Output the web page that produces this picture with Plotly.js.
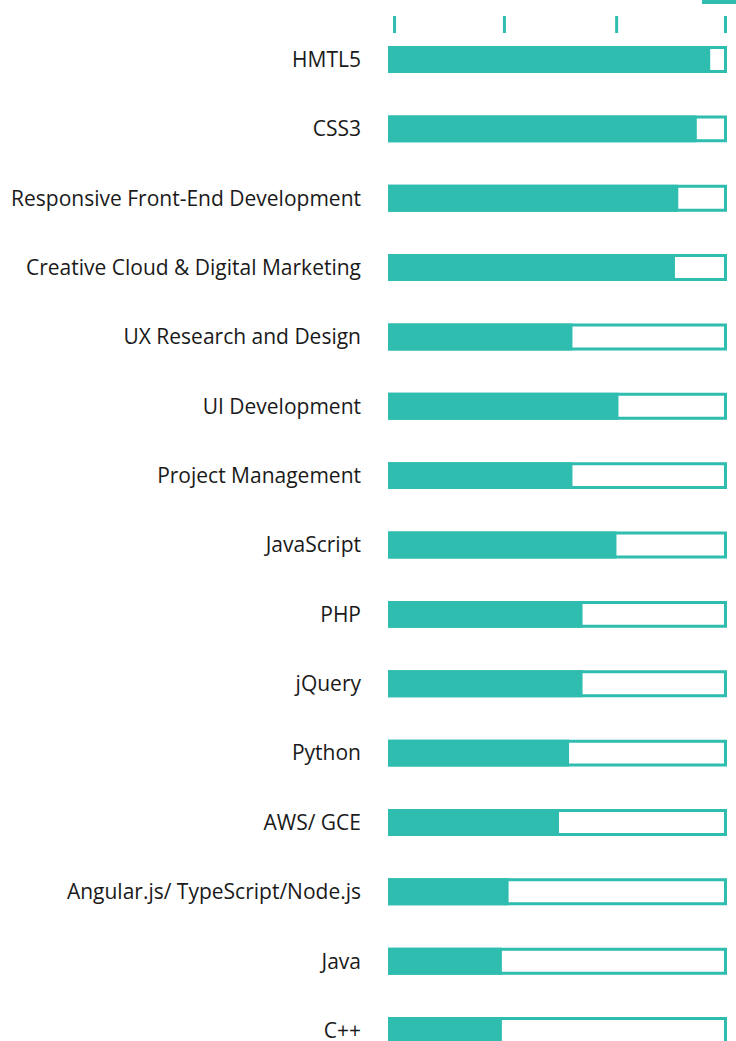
<!DOCTYPE html>
<html>
<head>
<meta charset="utf-8">
<script src="https://cdn.plot.ly/plotly-3.0.1.min.js"></script>
<style>
  html, body { margin: 0; padding: 0; background: #fff; }
  #chart { width: 736px; height: 1041px; }
</style>
</head>
<body>
<div id="chart"></div>
<script>
// Skill levels - teal fill over an outlined 100% track

const skills = [
    'HMTL5', 'CSS3', 'Responsive Front-End Development', 'Creative Cloud & Digital Marketing',
    'UX Research and Design', 'UI Development', 'Project Management', 'JavaScript',
    'PHP', 'jQuery', 'Python', 'AWS/ GCE', 'Angular.js/ TypeScript/Node.js', 'Java', 'C++'
];
const levels = [95, 91, 85.5, 84.5, 54, 67.7, 54, 67.1, 57, 57, 53, 50, 35, 33, 33];
const fullScale = skills.map(() => 100);
// marker positions of the level scale at the top
const scaleMarks = [1.5, 34.2, 67.6, 100];

const teal = '#2ebdae';
const labelFont = 'Open Sans, sans-serif';

const track = {
    type: 'bar',
    orientation: 'h',
    y: skills,
    x: fullScale,
    width: 0.345,
    marker: { color: '#ffffff', line: { color: teal, width: 3 } },
    hoverinfo: 'skip',
    showlegend: false
};

const fill = {
    type: 'bar',
    orientation: 'h',
    y: skills,
    x: levels,
    width: 0.345,
    marker: { color: teal, line: { color: teal, width: 3 } },
    hovertemplate: '%{y}: %{x}<extra></extra>',
    showlegend: false
};

const shapes = scaleMarks.map(v => ({
    type: 'line',
    xref: 'x', yref: 'paper',
    x0: v, x1: v,
    y0: 0.9683, y1: 0.9846,
    line: { color: teal, width: 3 }
}));
// small accent in the top right corner
shapes.push({
    type: 'rect', xref: 'paper', yref: 'paper',
    x0: 0.9235, x1: 1.03, y0: 0.9962, y1: 1.0,
    fillcolor: teal, line: { width: 0 }
});

const layout = {
    width: 736,
    height: 1041,
    barmode: 'overlay',
    paper_bgcolor: '#ffffff',
    plot_bgcolor: '#ffffff',
    margin: { l: 388, r: 8, t: 0, b: 0 },
    font: { family: labelFont, color: '#1a1a1a' },
    xaxis: {
        range: [-0.446, 100.74],
        showgrid: false, zeroline: false, showticklabels: false, showline: false, ticks: ''
    },
    yaxis: {
        type: 'category',
        range: [14.151, -0.858],
        showgrid: false, zeroline: false, showline: false, ticks: '',
        ticklabelstandoff: 26,
        tickfont: { size: 21, color: '#1a1a1a', family: labelFont }
    },
    shapes: shapes
};

Plotly.newPlot('chart', [track, fill], layout, { displayModeBar: false, responsive: false });
</script>
</body>
</html>
